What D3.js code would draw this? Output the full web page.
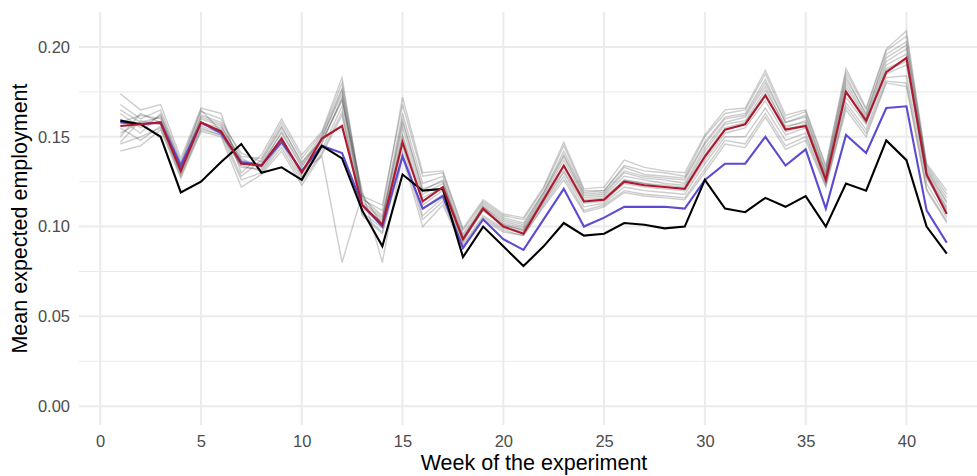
<!DOCTYPE html>
<html>
<head>
<meta charset="utf-8">
<script src="https://cdn.jsdelivr.net/npm/d3@7"></script>
<style>
  body { margin: 0; background: #fff; }
  text { font-family: "Liberation Sans", Arial, sans-serif; }
</style>
</head>
<body>
<svg id="chart" width="977" height="476"></svg>
<script>
// weeks 1..42
var weeks = d3.range(1, 43);

var observed = [0.159,0.157,0.150,0.119,0.125,0.136,0.146,0.130,0.133,0.126,0.145,0.138,0.109,0.089,0.129,0.120,0.121,0.083,0.100,0.089,0.078,0.089,0.102,0.095,0.096,0.102,0.101,0.099,0.100,0.126,0.110,0.108,0.116,0.111,0.117,0.100,0.124,0.120,0.148,0.137,0.100,0.085];

var blueLine = [0.158,0.157,0.158,0.134,0.158,0.152,0.136,0.134,0.147,0.131,0.145,0.141,0.112,0.100,0.139,0.110,0.117,0.088,0.104,0.093,0.087,0.104,0.121,0.100,0.105,0.111,0.111,0.111,0.110,0.126,0.135,0.135,0.150,0.134,0.143,0.110,0.151,0.141,0.166,0.167,0.109,0.091];

var redLine = [0.156,0.157,0.158,0.131,0.158,0.153,0.135,0.134,0.149,0.130,0.149,0.156,0.112,0.101,0.147,0.114,0.122,0.093,0.110,0.100,0.096,0.115,0.134,0.114,0.115,0.125,0.123,0.122,0.121,0.139,0.154,0.157,0.173,0.154,0.156,0.126,0.175,0.159,0.186,0.194,0.129,0.107];

var g1  = [0.168,0.160,0.165,0.136,0.164,0.160,0.139,0.138,0.158,0.138,0.152,0.180,0.117,0.112,0.168,0.128,0.130,0.098,0.114,0.106,0.104,0.121,0.145,0.120,0.120,0.134,0.131,0.130,0.128,0.150,0.163,0.165,0.185,0.160,0.164,0.133,0.186,0.165,0.198,0.206,0.134,0.118];
var g2  = [0.146,0.150,0.155,0.128,0.154,0.151,0.126,0.130,0.144,0.125,0.141,0.164,0.107,0.097,0.141,0.104,0.114,0.089,0.105,0.098,0.095,0.112,0.128,0.109,0.112,0.120,0.118,0.117,0.116,0.132,0.148,0.146,0.163,0.145,0.150,0.123,0.167,0.152,0.181,0.180,0.121,0.103];
var g3  = [0.158,0.162,0.160,0.133,0.160,0.156,0.136,0.135,0.152,0.133,0.150,0.174,0.113,0.104,0.155,0.118,0.124,0.094,0.111,0.102,0.099,0.117,0.137,0.116,0.117,0.128,0.126,0.124,0.123,0.142,0.157,0.159,0.176,0.156,0.158,0.128,0.178,0.160,0.190,0.196,0.130,0.111];
var g4  = [0.152,0.158,0.157,0.130,0.156,0.152,0.133,0.132,0.147,0.131,0.139,0.080,0.118,0.101,0.150,0.112,0.120,0.092,0.109,0.100,0.097,0.114,0.131,0.113,0.114,0.124,0.122,0.121,0.120,0.137,0.152,0.155,0.170,0.151,0.155,0.125,0.172,0.157,0.185,0.190,0.127,0.108];
var g5  = [0.163,0.155,0.162,0.134,0.162,0.158,0.141,0.136,0.155,0.136,0.148,0.170,0.120,0.080,0.140,0.110,0.118,0.091,0.112,0.104,0.101,0.119,0.140,0.118,0.119,0.131,0.128,0.127,0.126,0.146,0.160,0.162,0.180,0.158,0.161,0.130,0.182,0.163,0.194,0.201,0.132,0.114];
var g6  = [0.174,0.165,0.168,0.138,0.166,0.163,0.130,0.140,0.160,0.140,0.153,0.183,0.115,0.109,0.172,0.130,0.131,0.099,0.115,0.107,0.105,0.122,0.147,0.121,0.122,0.137,0.133,0.131,0.130,0.151,0.165,0.166,0.187,0.162,0.165,0.134,0.188,0.166,0.199,0.209,0.135,0.120];
var g7  = [0.142,0.145,0.154,0.127,0.153,0.150,0.122,0.129,0.142,0.123,0.140,0.162,0.106,0.096,0.139,0.100,0.112,0.088,0.104,0.097,0.095,0.111,0.126,0.108,0.111,0.119,0.117,0.116,0.115,0.130,0.146,0.144,0.161,0.143,0.148,0.122,0.165,0.150,0.180,0.178,0.120,0.102];
var g8  = [0.150,0.163,0.158,0.131,0.158,0.155,0.138,0.133,0.150,0.128,0.146,0.172,0.110,0.103,0.160,0.120,0.126,0.093,0.109,0.101,0.098,0.116,0.134,0.115,0.116,0.126,0.124,0.123,0.122,0.140,0.155,0.158,0.174,0.154,0.157,0.127,0.176,0.158,0.188,0.193,0.129,0.110];
var g9  = [0.160,0.152,0.163,0.135,0.165,0.153,0.128,0.137,0.156,0.135,0.151,0.177,0.116,0.106,0.163,0.124,0.128,0.096,0.113,0.105,0.102,0.119,0.142,0.119,0.120,0.133,0.129,0.128,0.127,0.147,0.161,0.163,0.182,0.158,0.162,0.131,0.184,0.162,0.196,0.203,0.133,0.116];
var g10 = [0.155,0.148,0.156,0.129,0.155,0.151,0.134,0.131,0.146,0.127,0.143,0.167,0.108,0.099,0.145,0.106,0.116,0.090,0.106,0.099,0.096,0.113,0.130,0.111,0.113,0.122,0.120,0.119,0.118,0.135,0.150,0.150,0.166,0.148,0.152,0.124,0.169,0.154,0.183,0.184,0.124,0.105];
var g11 = [0.165,0.158,0.161,0.133,0.161,0.157,0.137,0.134,0.153,0.134,0.149,0.176,0.114,0.105,0.158,0.121,0.125,0.095,0.111,0.103,0.100,0.118,0.139,0.117,0.118,0.130,0.127,0.126,0.124,0.144,0.158,0.161,0.178,0.155,0.159,0.129,0.180,0.161,0.192,0.199,0.131,0.113];
var g12 = [0.147,0.159,0.157,0.132,0.157,0.154,0.135,0.134,0.149,0.130,0.147,0.171,0.112,0.102,0.151,0.116,0.122,0.093,0.110,0.101,0.098,0.115,0.133,0.114,0.115,0.126,0.124,0.122,0.121,0.139,0.154,0.157,0.173,0.153,0.156,0.126,0.175,0.158,0.187,0.192,0.128,0.109];
var grayLines = [g1, g2, g3, g4, g5, g6, g7, g8, g9, g10, g11, g12];

var xTicks = [0, 5, 10, 15, 20, 25, 30, 35, 40];
var yTicks = [0, 0.05, 0.10, 0.15, 0.20];
var yMinor = [0.025, 0.075, 0.125, 0.175];

var svg = d3.select("#chart");
var margin = {top: 12, right: 0, bottom: 51, left: 79};
var width = 977 - margin.left - margin.right,
    height = 476 - margin.top - margin.bottom;

var x = d3.scaleLinear().domain([-1.05, 43.5]).range([0, width]);
var y = d3.scaleLinear().domain([-0.0105, 0.2195]).range([height, 0]);

var g = svg.append('g').attr('transform', 'translate(' + margin.left + ',' + margin.top + ')');

// grid
g.selectAll('.minor').data(yMinor).enter().append('line')
  .attr('x1', 0).attr('x2', width)
  .attr('y1', d => y(d)).attr('y2', d => y(d))
  .attr('stroke', '#ebebeb').attr('stroke-width', 1.1);
g.selectAll('.hmaj').data(yTicks).enter().append('line')
  .attr('x1', 0).attr('x2', width)
  .attr('y1', d => y(d)).attr('y2', d => y(d))
  .attr('stroke', '#ebebeb').attr('stroke-width', 2);
g.selectAll('.vmaj').data(xTicks).enter().append('line')
  .attr('y1', 0).attr('y2', height)
  .attr('x1', d => x(d)).attr('x2', d => x(d))
  .attr('stroke', '#ebebeb').attr('stroke-width', 2);

var line = d3.line().x((d, i) => x(weeks[i])).y(d => y(d));

g.selectAll('.sim').data(grayLines).enter().append('path')
  .attr('d', line)
  .attr('fill', 'none')
  .attr('stroke', '#2e2e2e')
  .attr('stroke-opacity', 0.24)
  .attr('stroke-width', 1.4);

g.append('path').datum(blueLine).attr('d', line)
  .attr('fill', 'none').attr('stroke', '#5b4bd1').attr('stroke-width', 2.1);
g.append('path').datum(observed).attr('d', line)
  .attr('fill', 'none').attr('stroke', '#000').attr('stroke-width', 2.1);
g.append('path').datum(redLine).attr('d', line)
  .attr('fill', 'none').attr('stroke', '#ad1a2e').attr('stroke-width', 2.1);

// axes
var xAxis = g.append('g').attr('transform', 'translate(0,' + height + ')')
  .call(d3.axisBottom(x).tickValues(xTicks).tickSize(0).tickPadding(10).tickFormat(d3.format('d')));
var yAxis = g.append('g')
  .call(d3.axisLeft(y).tickValues(yTicks).tickSize(0).tickPadding(9).tickFormat(d3.format('.2f')));
[xAxis, yAxis].forEach(function(a) {
  a.select('.domain').remove();
  a.selectAll('text').attr('fill', '#4d4d4d').style('font-size', '16.5px');
});

svg.append('text')
  .attr('x', margin.left + width / 2 + 6)
  .attr('y', 470)
  .attr('text-anchor', 'middle')
  .style('font-size', '21.5px')
  .text('Week of the experiment');

svg.append('text')
  .attr('transform', 'translate(27,' + (margin.top + height / 2) + ') rotate(-90)')
  .attr('text-anchor', 'middle')
  .style('font-size', '21.5px')
  .text('Mean expected employment');
</script>
</body>
</html>
